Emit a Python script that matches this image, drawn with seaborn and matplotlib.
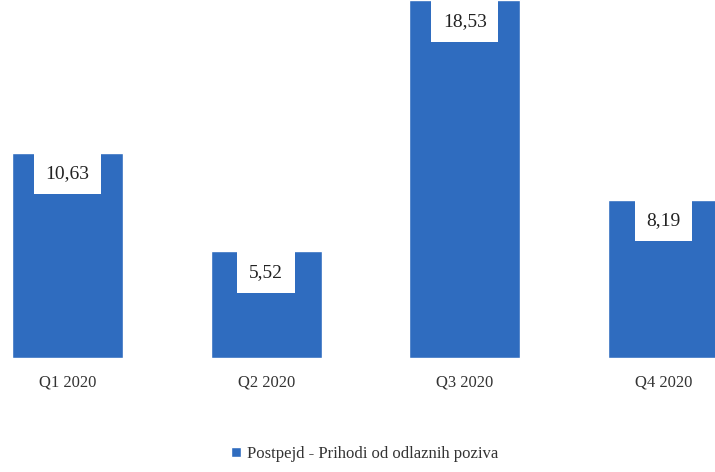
import matplotlib
matplotlib.use("Agg")
import matplotlib.pyplot as plt
import seaborn as sns
import pandas as pd

# Data
quarters = ["Q1 2020", "Q2 2020", "Q3 2020", "Q4 2020"]
values = [10.63, 5.52, 18.53, 8.19]
value_labels = ["10,63", "5,52", "18,53", "8,19"]
series_name = "Postpejd - Prihodi od odlaznih poziva"

BAR_COLOR = "#2f6cbf"

sns.set_theme(style="white")
plt.rcParams["font.family"] = ["Liberation Serif", "DejaVu Serif"]

df = pd.DataFrame({"quarter": quarters, "value": values})

fig = plt.figure(figsize=(7.15, 4.72), dpi=100)
ax = fig.add_axes([0.0, 0.2415, 1.0, 0.7585])

sns.barplot(data=df, x="quarter", y="value", color=BAR_COLOR, saturation=1,
            width=0.56, ax=ax, label=series_name)

# value labels in white boxes just under each bar top
for i, (v, lab) in enumerate(zip(values, value_labels)):
    ax.annotate(lab, xy=(i, v), xytext=(0, -9), textcoords="offset points",
                ha="center", va="top", fontsize=14, color="#222222",
                bbox=dict(boxstyle="square,pad=0.6", fc="white", ec="none"))

ax.set_xlim(-0.34, 3.26)
ax.set_ylim(0, 18.55)
ax.set_xlabel("")
ax.set_ylabel("")
ax.set_yticks([])
ax.tick_params(axis="x", length=0, pad=12, labelsize=12, labelcolor="#333333")
sns.despine(ax=ax, left=True, bottom=True, top=True, right=True)

handles, labels = ax.get_legend_handles_labels()
ax.legend(handles, labels, loc="lower center", bbox_to_anchor=(0.51, -0.01),
          bbox_transform=fig.transFigure, frameon=False, fontsize=12,
          handlelength=0.6, handleheight=0.6, handletextpad=0.4,
          labelcolor="#333333")

fig.savefig("out.png", dpi=100)
plt.close(fig)
